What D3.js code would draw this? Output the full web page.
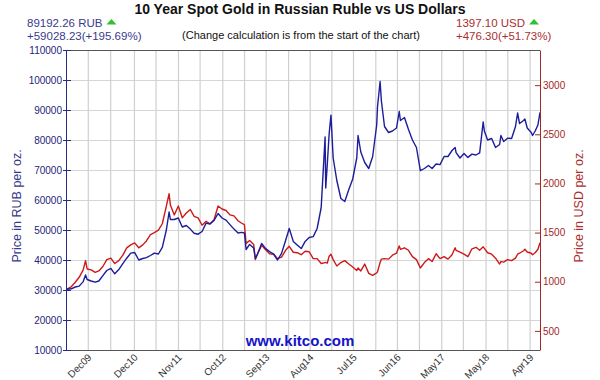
<!DOCTYPE html>
<html><head><meta charset="utf-8">
<script src="https://cdn.jsdelivr.net/npm/d3@7"></script>
<style>body{margin:0;background:#fff}</style>
</head><body><svg id="c" width="600" height="380"></svg>
<script>
// ---- data ----
const dates = ["2009-07-06","2009-08-15","2009-09-15","2009-10-15","2009-11-15","2009-12-03","2009-12-15",
"2010-01-15","2010-02-15","2010-03-15","2010-04-15","2010-05-15","2010-06-15","2010-07-15","2010-08-15","2010-09-15","2010-10-15","2010-11-15","2010-12-15",
"2011-01-15","2011-02-15","2011-03-15","2011-04-15","2011-05-15","2011-06-15","2011-07-15","2011-08-15","2011-09-05","2011-09-15","2011-10-15","2011-11-15","2011-12-15",
"2012-01-15","2012-02-15","2012-03-15","2012-04-15","2012-05-15","2012-06-15","2012-07-15","2012-08-15","2012-09-15","2012-10-15","2012-11-15","2012-12-15",
"2013-01-15","2013-02-15","2013-03-15","2013-04-05","2013-04-18","2013-05-15","2013-06-15","2013-06-28","2013-07-15","2013-08-15","2013-09-15","2013-10-15","2013-11-15","2013-12-15",
"2014-01-15","2014-02-15","2014-03-15","2014-04-15","2014-05-15","2014-06-15","2014-07-15","2014-08-15","2014-09-15","2014-10-15","2014-11-15","2014-12-15","2014-12-20",
"2015-01-01","2015-01-15","2015-01-29","2015-02-15","2015-03-15","2015-04-15","2015-05-15","2015-06-15","2015-07-15","2015-08-15","2015-08-25","2015-09-15","2015-10-15","2015-11-15","2015-12-15",
"2016-01-15","2016-01-21","2016-02-10","2016-02-20","2016-03-15","2016-04-15","2016-05-15","2016-06-15","2016-07-06","2016-07-15","2016-08-15","2016-09-15","2016-10-15","2016-11-15","2016-12-15",
"2017-01-15","2017-02-15","2017-03-15","2017-04-15","2017-05-15","2017-06-15","2017-07-15","2017-08-15","2017-09-08","2017-09-15","2017-10-15","2017-11-15","2017-12-15",
"2018-01-15","2018-02-15","2018-03-15","2018-04-11","2018-04-20","2018-05-15","2018-06-15","2018-07-15","2018-08-15","2018-08-25","2018-09-15","2018-10-15","2018-11-15","2018-12-15","2018-12-31",
"2019-01-15","2019-02-15","2019-02-25","2019-03-15","2019-04-15","2019-04-25","2019-05-15","2019-06-05","2019-06-21"];

const rubValues = [30164.03,30400,31000,31300,32800,35000,33500,
33000,32600,33000,34800,36500,37200,35400,36800,38800,40600,42300,42500,
40000,40500,40800,41500,42300,42000,44200,50000,56000,53500,53500,54000,51000,
51500,50300,48900,48600,49500,52300,52000,53200,55500,54000,53300,51800,
50300,49000,49200,49000,43500,45200,44000,40500,42000,45500,43800,42800,42000,40000,
42200,46500,50500,46200,45000,43800,46200,47500,47800,50500,57500,81000,64000,
72000,82000,88300,74000,66500,60500,59500,63500,67000,74000,81500,76000,72500,70500,74500,
85000,91000,99500,93000,84500,82500,83000,84000,89500,86500,87500,83500,80000,77500,69800,
70500,71500,70500,72000,71800,74500,74500,76500,77500,75800,74000,75500,74200,
75300,75000,75700,86000,83000,80000,80500,77500,78500,81500,79500,80600,80500,84500,89000,
85500,86500,87000,84000,82500,81500,83000,85000,89192.26];

const usdValues = [920.80,948,995,1045,1120,1215,1130,
1120,1095,1110,1155,1225,1240,1185,1215,1270,1345,1375,1395,
1345,1375,1415,1480,1500,1525,1590,1770,1895,1780,1680,1770,1650,
1700,1735,1665,1650,1575,1615,1590,1630,1770,1740,1725,1680,
1670,1620,1595,1580,1390,1420,1380,1225,1285,1370,1325,1285,1280,1235,
1250,1320,1360,1300,1295,1275,1310,1305,1235,1235,1185,1195,1195,
1190,1260,1280,1225,1160,1195,1215,1180,1150,1115,1140,1110,1180,1085,1065,
1090,1100,1195,1230,1235,1230,1270,1290,1365,1330,1345,1320,1255,1225,1140,
1195,1235,1205,1285,1235,1255,1230,1275,1345,1320,1300,1280,1255,
1335,1350,1320,1355,1340,1295,1280,1240,1180,1205,1200,1225,1215,1240,1280,
1290,1315,1330,1302,1290,1275,1295,1330,1397.10];

const xDomain = ["2009-07-06","2019-06-21"];
const rubTicks = [10000,20000,30000,40000,50000,60000,70000,80000,90000,100000,110000];
const usdTicks = [500,1000,1500,2000,2500,3000];
const xTickDates = ["2009-12-24","2010-06-14","2010-12-13","2011-05-28","2011-11-16","2012-04-30","2012-10-21",
"2013-04-06","2013-09-19","2014-03-10","2014-08-23","2015-02-05","2015-07-21","2016-01-08","2016-06-22",
"2016-12-08","2017-05-28","2017-11-10","2018-05-03","2018-10-17","2019-04-06"];
const xTickLabels = ["Dec09","","Dec10","","Nov11","","Oct12","","Sep13","","Aug14","","Jul15","","Jun16","","May17","","May18","","Apr19"];

// ---- drawing ----
const FONT = "Arial, 'Liberation Sans', Helvetica, sans-serif";
const svg = d3.select("#c").attr("font-family", FONT);
const L = 66, R = 540, T = 50, B = 350;
const parse = d3.timeParse("%Y-%m-%d");
const pts = dates.map((d, i) => ({t: parse(d), r: rubValues[i], u: usdValues[i]}));

const x = d3.scaleTime().domain(xDomain.map(parse)).range([L, R]);
const y1 = d3.scaleLinear().domain([rubTicks[0], rubTicks[rubTicks.length - 1]]).range([B, T]);
const ratio = rubValues[0] / usdValues[0];
const y2 = d3.scaleLinear().domain(y1.domain().map(v => v / ratio)).range([B, T]);

const BLUE = "#1c1c9c", RED = "#cc1a1a";
const BLUE_TXT = "#3a3a8c", RED_TXT = "#aa2e2e";

// grid
const grid = svg.append("g");
grid.selectAll("line.h").data(rubTicks).join("line").attr("class", "h")
  .attr("x1", L).attr("x2", R).attr("y1", d => y1(d)).attr("y2", d => y1(d))
  .attr("stroke", "#d6d6d6").attr("shape-rendering", "crispEdges");
grid.selectAll("line.v").data(xTickDates.map(parse)).join("line").attr("class", "v")
  .attr("x1", d => x(d)).attr("x2", d => x(d)).attr("y1", T).attr("y2", B)
  .attr("stroke", "#d0d0d0").attr("stroke-width", 1.2);

// clip + lines
svg.append("clipPath").attr("id", "clip").append("rect").attr("x", L).attr("y", T).attr("width", R - L).attr("height", B - T);
const plot = svg.append("g").attr("clip-path", "url(#clip)");
plot.append("path").datum(pts).attr("fill", "none").attr("stroke", RED).attr("stroke-width", 1.4)
  .attr("stroke-linejoin", "round")
  .attr("d", d3.line().x(d => x(d.t)).y(d => y2(d.u)));
plot.append("path").datum(pts).attr("fill", "none").attr("stroke", BLUE).attr("stroke-width", 1.4)
  .attr("stroke-linejoin", "round")
  .attr("d", d3.line().x(d => x(d.t)).y(d => y1(d.r)));

// frame top/bottom
svg.append("line").attr("x1", L).attr("x2", R).attr("y1", T + 0.5).attr("y2", T + 0.5).attr("stroke", "#555");
svg.append("line").attr("x1", L).attr("x2", R).attr("y1", B + 0.5).attr("y2", B + 0.5).attr("stroke", "#555");

// left axis
const axL = svg.append("g").attr("transform", `translate(${L},0)`)
  .call(d3.axisLeft(y1).tickValues(rubTicks).tickSizeInner(3).tickSizeOuter(0).tickPadding(1).tickFormat(d3.format("d")));
axL.attr("font-family", FONT).attr("font-size", 10);
axL.select(".domain").attr("stroke", "#2a2a80");
axL.selectAll(".tick line").attr("stroke", "#2a2a80");
axL.selectAll(".tick text").attr("fill", "#24247a");
const axLi = svg.append("g").attr("transform", `translate(${L},0)`)
  .call(d3.axisLeft(y1).tickValues(rubTicks).tickSizeInner(-5).tickSizeOuter(0).tickFormat(""));
axLi.select(".domain").remove();
axLi.selectAll(".tick line").attr("stroke", "#2a2a80");

// right axis
const axR = svg.append("g").attr("transform", `translate(${R},0)`)
  .call(d3.axisRight(y2).tickValues(usdTicks).tickSizeInner(-5).tickSizeOuter(0).tickPadding(3).tickFormat(d3.format("d")));
axR.attr("font-family", FONT).attr("font-size", 10);
axR.select(".domain").attr("stroke", "#a02828");
axR.selectAll(".tick line").attr("stroke", "#a02828");
axR.selectAll(".tick text").attr("fill", "#a02828");

// x labels
const xl = svg.append("g").attr("font-size", 10).attr("fill", "#333");
xl.selectAll("text").data(xTickDates.map((d, i) => ({t: parse(d), s: xTickLabels[i]})).filter(d => d.s))
  .join("text")
  .attr("transform", d => `translate(${x(d.t) + 4},${B + 8}) rotate(-45)`)
  .attr("text-anchor", "end").text(d => d.s);

// axis titles
svg.append("text").attr("transform", `translate(21,206) rotate(-90)`).attr("text-anchor", "middle")
  .attr("font-size", 12.5).attr("fill", BLUE_TXT).text("Price in RUB per oz.");
svg.append("text").attr("transform", `translate(583,206) rotate(-90)`).attr("text-anchor", "middle")
  .attr("font-size", 12.5).attr("fill", RED_TXT).text("Price in USD per oz.");

// title & notes
svg.append("text").attr("x", 300).attr("y", 14).attr("text-anchor", "middle")
  .attr("font-size", 14).attr("font-weight", "bold").attr("fill", "#111")
  .text("10 Year Spot Gold in Russian Ruble vs US Dollars");
svg.append("text").attr("x", 301).attr("y", 38.5).attr("text-anchor", "middle")
  .attr("font-size", 11).attr("fill", "#111")
  .text("(Change calculation is from the start of the chart)");

const fmt2 = d3.format(".2f");
function header(xp, color, last, first, unit) {
  const t1 = svg.append("text").attr("x", xp).attr("y", 27).attr("font-size", 11.5).attr("fill", color)
    .text(`${fmt2(last)} ${unit}`);
  const w = t1.node().getComputedTextLength();
  const tx = xp + w + 4;
  svg.append("path").attr("d", `M${tx},24.5 L${tx + 10},24.5 L${tx + 5},19 Z`).attr("fill", "#2fbf2f");
  svg.append("text").attr("x", xp).attr("y", 39.5).attr("font-size", 11.5).attr("fill", color)
    .text(`+${fmt2(last - first)}(+${fmt2((last - first) / first * 100)}%)`);
}
header(27, BLUE_TXT, rubValues[rubValues.length - 1], rubValues[0], "RUB");
header(456, RED_TXT, usdValues[usdValues.length - 1], usdValues[0], "USD");

// watermark
svg.append("text").attr("x", 300).attr("y", 346).attr("text-anchor", "middle")
  .attr("font-size", 15).attr("font-weight", "bold").attr("fill", "#1414c8").text("www.kitco.com");
</script>
</body></html>
